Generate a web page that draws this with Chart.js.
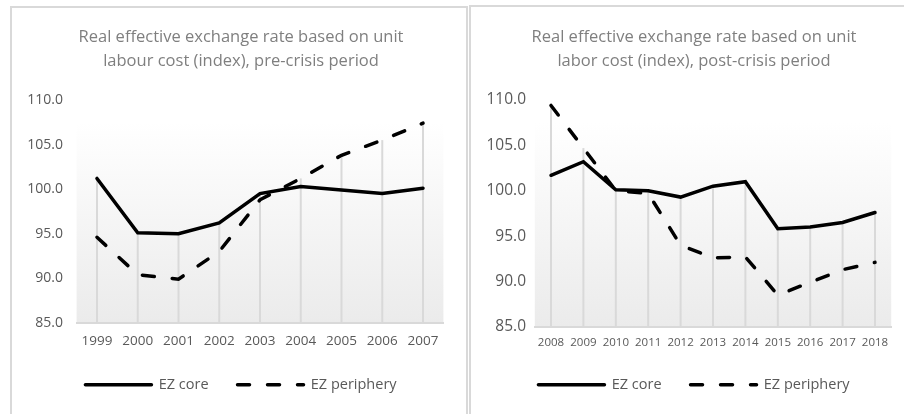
<!DOCTYPE html>
<html lang="en">
<head>
  <meta charset="UTF-8" />
  <title>Real effective exchange rate</title>
  <script src="https://cdn.jsdelivr.net/npm/chart.js"></script>
  <style>
    body { margin: 0; background: #fff; width: 904px; height: 414px; overflow: hidden; position: relative; }
    .painel { position: absolute; border: 2px solid #d9d9d9; background: #fff; }
    #painelPre { left: 10px; top: 6px; }
    #painelPos { left: 469px; top: 5px; }
    canvas { display: block; }
  </style>
</head>
<body>
  <div class="painel" id="painelPre"><canvas id="graficoPre" width="454" height="410"></canvas></div>
  <div class="painel" id="painelPos"><canvas id="graficoPos" width="442" height="410"></canvas></div>

  <script>
    // Dados
    const anosPre = ['1999', '2000', '2001', '2002', '2003', '2004', '2005', '2006', '2007'];
    const corePre = [101.2, 95.1, 95.0, 96.2, 99.5, 100.3, 99.9, 99.5, 100.1];
    const periferiaPre = [94.6, 90.4, 89.9, 93.0, 98.8, 101.2, 103.8, 105.5, 107.4];

    const anosPos = ['2008', '2009', '2010', '2011', '2012', '2013', '2014', '2015', '2016', '2017', '2018'];
    const corePos = [101.7, 103.2, 100.1, 100.0, 99.3, 100.5, 101.0, 95.8, 96.0, 96.5, 97.6];
    const periferiaPos = [109.4, 104.7, 100.0, 99.7, 94.0, 92.6, 92.7, 88.5, 89.9, 91.3, 92.1];

    const tituloPre = ['Real effective exchange rate based on unit', 'labour cost (index), pre-crisis period'];
    const tituloPos = ['Real effective exchange rate based on unit', 'labor cost (index), post-crisis period'];

    const fonte = '"Open Sans", sans-serif';

    // fundo em degradê e linhas de queda (estilo Excel)
    const estiloExcel = {
      id: 'estiloExcel',
      beforeDraw(chart) {
        const { ctx, chartArea } = chart;
        const grad = ctx.createLinearGradient(0, chartArea.top, 0, chartArea.bottom);
        grad.addColorStop(0, '#ffffff');
        grad.addColorStop(0.1, '#ffffff');
        grad.addColorStop(1, '#ebebeb');
        ctx.save();
        ctx.fillStyle = grad;
        ctx.fillRect(chartArea.left, chartArea.top, chartArea.width, chartArea.height);
        ctx.restore();
      },
      beforeDatasetsDraw(chart) {
        const { ctx, chartArea, scales } = chart;
        const conjuntos = chart.data.datasets;
        ctx.save();
        ctx.strokeStyle = '#d9d9d9';
        ctx.lineWidth = 2;
        chart.data.labels.forEach((_, i) => {
          const maximo = Math.max(...conjuntos.map(d => d.data[i]));
          const x = scales.x.getPixelForValue(i);
          ctx.beginPath();
          ctx.moveTo(x, scales.y.getPixelForValue(maximo));
          ctx.lineTo(x, chartArea.bottom);
          ctx.stroke();
        });
        ctx.restore();
      }
    };

    function criarGrafico(id, anos, core, periferia, titulo, cfg) {
      return new Chart(document.getElementById(id), {
        type: 'line',
        data: {
          labels: anos,
          datasets: [
            {
              label: 'EZ core',
              data: core,
              borderColor: '#000',
              backgroundColor: '#000',
              borderWidth: 3.5,
              borderCapStyle: 'round',
              pointRadius: 0,
              pointStyle: 'line',
              tension: 0
            },
            {
              label: 'EZ periphery',
              data: periferia,
              borderColor: '#000',
              backgroundColor: '#000',
              borderWidth: 3.5,
              borderDash: [12, 18],
              borderCapStyle: 'round',
              pointRadius: 0,
              pointStyle: 'line',
              tension: 0
            }
          ]
        },
        options: {
          responsive: false,
          animation: false,
          devicePixelRatio: 1,
          events: [],
          layout: { padding: { left: 4, right: 0, top: 0, bottom: cfg.baixo } },
          plugins: {
            title: {
              display: true,
              text: titulo,
              color: '#7f7f7f',
              font: { family: fonte, size: 16.5, weight: 'normal', lineHeight: 24 / 16.5 },
              padding: { top: cfg.tituloTopo, bottom: 27 }
            },
            legend: {
              position: 'bottom',
              labels: {
                usePointStyle: true,
                pointStyleWidth: 66,
                padding: 29,
                color: '#595959',
                font: { family: fonte, size: 14.5 },
                generateLabels: chart => Chart.defaults.plugins.legend.labels.generateLabels(chart).map((item, i) => ({
                  ...item,
                  lineWidth: 3.5,
                  lineCap: 'round',
                  lineDash: chart.data.datasets[i].borderDash || []
                }))
              }
            },
            tooltip: { enabled: false }
          },
          scales: {
            x: {
              offset: true,
              grid: { display: false, drawTicks: false },
              border: { display: true, color: '#d9d9d9', width: 2 },
              ticks: {
                color: '#595959',
                padding: cfg.xPad,
                maxRotation: 0,
                autoSkip: false,
                font: { family: fonte, size: cfg.xFonte }
              },
              afterFit: s => { s.height = cfg.xAltura; }
            },
            y: {
              min: 85,
              max: 110,
              grid: { display: false, drawTicks: false },
              border: { display: false },
              ticks: {
                stepSize: 5,
                color: '#595959',
                padding: cfg.yPad,
                font: { family: fonte, size: cfg.yFonte },
                callback: v => v.toFixed(1)
              },
              afterFit: s => { s.width = cfg.esquerda - 4; }
            },
            // eixo vazio só para reservar a margem direita
            y2: {
              position: 'right',
              grid: { display: false, drawTicks: false },
              border: { display: false },
              ticks: { display: false },
              afterFit: s => { s.width = cfg.direita; }
            }
          }
        },
        plugins: [estiloExcel]
      });
    }

    criarGrafico('graficoPre', anosPre, corePre, periferiaPre, tituloPre, {
      esquerda: 64.6, direita: 22.6, baixo: 16, tituloTopo: 17, xPad: 10.6, xFonte: 13.5, xAltura: 25.7, yPad: 13.6, yFonte: 14
    });

    criarGrafico('graficoPos', anosPos, corePos, periferiaPos, tituloPos, {
      esquerda: 63.8, direita: 21.8, baixo: 15, tituloTopo: 18, xPad: 8.8, xFonte: 11.5, xAltura: 21.7, yPad: 8.8, yFonte: 15.5
    });
  </script>
</body>
</html>
